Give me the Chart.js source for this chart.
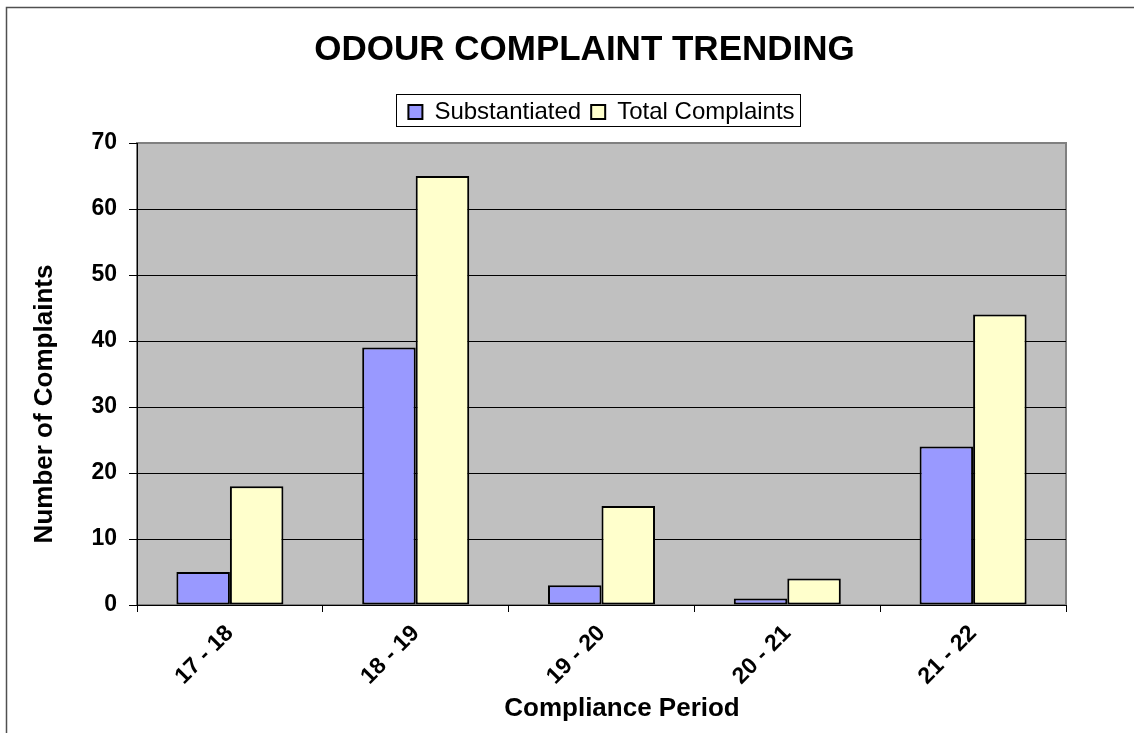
<!DOCTYPE html>
<html>
<head>
<meta charset="utf-8">
<title>Odour Complaint Trending</title>
<script src="https://cdn.jsdelivr.net/npm/chart.js@4.4.1/dist/chart.umd.min.js"></script>
<style>
  html, body { margin: 0; padding: 0; background: #fff; }
  #wrap { width: 1134px; height: 733px; position: relative; }
</style>
</head>
<body>
<div id="wrap"><canvas id="chart"></canvas></div>
<script>
// Data
const periods = ['17 - 18', '18 - 19', '19 - 20', '20 - 21', '21 - 22'];
const substantiated = [5, 39, 3, 1, 24];
const totalComplaints = [18, 65, 15, 4, 44];
const yTicks = [0, 10, 20, 30, 40, 50, 60, 70];

const FONT = "Arial, 'Liberation Sans', sans-serif";
Chart.defaults.font.family = FONT;
Chart.defaults.color = '#000';

// plot area background, outer frame, legend frame, axis titles
const chartDecor = {
  id: 'chartDecor',
  beforeDraw(chart) {
    const { ctx, chartArea: a } = chart;
    ctx.save();
    ctx.fillStyle = '#C0C0C0';
    ctx.fillRect(a.left, a.top, a.right - a.left, a.bottom - a.top);
    ctx.strokeStyle = '#808080';
    ctx.lineWidth = 2;
    ctx.strokeRect(a.left, a.top, a.right - a.left, a.bottom - a.top);
    ctx.restore();
  },
  afterDraw(chart) {
    const { ctx } = chart;
    ctx.save();
    // outer frame
    ctx.strokeStyle = '#505050';
    ctx.lineWidth = 1.5;
    ctx.strokeRect(6.5, 7.5, chart.width + 20, chart.height + 20);

    // legend frame
    const hb = chart.legend.legendHitBoxes;
    if (hb && hb.length) {
      const first = hb[0], last = hb[hb.length - 1];
      const x0 = Math.round(first.left - 12) + 0.5;
      const x1 = Math.round(last.left + last.width + 5) + 0.5;
      const y0 = Math.round(first.top - 6) + 0.5;
      const y1 = Math.round(first.top + first.height + 2) + 0.5;
      ctx.strokeStyle = '#000';
      ctx.lineWidth = 1;
      ctx.strokeRect(x0, y0, x1 - x0, y1 - y0);
    }

    // axis titles
    ctx.fillStyle = '#000';
    ctx.font = 'bold 26px ' + FONT;
    ctx.textAlign = 'center';
    ctx.textBaseline = 'middle';
    ctx.fillText('Compliance Period', 622, 709);
    ctx.translate(45, 404);
    ctx.rotate(-Math.PI / 2);
    ctx.fillText('Number of Complaints', 0, 0);
    ctx.restore();
  }
};

new Chart(document.getElementById('chart'), {
  type: 'bar',
  data: {
    labels: periods,
    datasets: [
      {
        label: 'Substantiated',
        data: substantiated,
        backgroundColor: '#9999FF',
        borderColor: '#000',
        borderWidth: 2,
        borderSkipped: false
      },
      {
        label: 'Total Complaints',
        data: totalComplaints,
        backgroundColor: '#FFFFCC',
        borderColor: '#000',
        borderWidth: 2,
        borderSkipped: false
      }
    ]
  },
  options: {
    responsive: true,
    maintainAspectRatio: false,
    animation: false,
    events: [],
    layout: { padding: { left: 84, right: 49, top: 0, bottom: 0 } },
    datasets: {
      bar: { categoryPercentage: 0.576, barPercentage: 1 }
    },
    scales: {
      x: {
        grid: {
          offset: true,
          drawOnChartArea: false,
          drawTicks: true,
          tickLength: 7,
          color: '#000'
        },
        border: { display: true, color: '#000', width: 1 },
        ticks: {
          autoSkip: false,
          minRotation: 45,
          maxRotation: 45,
          padding: 8,
          font: { size: 23, weight: 'bold' }
        },
        afterFit(scale) { scale.height = 128; }
      },
      y: {
        min: 0,
        max: 70,
        afterBuildTicks(scale) { scale.ticks = yTicks.map(v => ({ value: v })); },
        grid: {
          color: c => (c.tick && c.tick.value === 70 ? 'rgba(0,0,0,0)' : '#000'),
          tickColor: '#000',
          tickLength: 8,
          lineWidth: 1
        },
        border: { display: true, color: '#000', width: 1 },
        ticks: {
          padding: 12,
          font: { size: 23, weight: 'bold' }
        },
        afterFit(scale) { scale.width = 53; }
      },
      // empty spacer on the right so the plot ends where the original does
      yRight: {
        position: 'right',
        min: 0,
        max: 70,
        grid: { display: false, drawTicks: false },
        border: { display: false },
        ticks: { display: false },
        afterFit(scale) { scale.width = 19; }
      }
    },
    plugins: {
      title: {
        display: true,
        text: 'ODOUR COMPLAINT TRENDING',
        font: { size: 35, weight: 'bold' },
        padding: { top: 29, bottom: 19 }
      },
      subtitle: {
        display: true,
        text: '',
        weight: 500,
        font: { size: 1 },
        padding: { top: 0, bottom: 7.8 }
      },
      legend: {
        position: 'top',
        fullSize: false,
        labels: {
          boxWidth: 14,
          boxHeight: 14,
          padding: 10,
          font: { size: 24 }
        }
      },
      tooltip: { enabled: false }
    }
  },
  plugins: [chartDecor]
});
</script>
</body>
</html>
